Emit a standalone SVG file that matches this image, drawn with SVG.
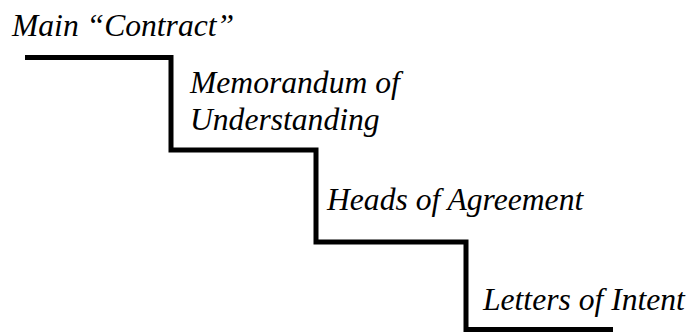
<svg xmlns="http://www.w3.org/2000/svg" width="689" height="336" viewBox="0 0 689 336">
<style>
.step{fill:none;stroke:#000;stroke-width:5;stroke-linejoin:miter;stroke-linecap:butt}
</style>
<rect width="689" height="336" fill="#fff"/>
<g id="connectors">
<path class="step" d="M25 57.5H171V150H316V242H466V329.5H613"/>
</g>
<g font-family="Liberation Serif" font-style="oblique" font-size="31.6" fill="#000">
<g id="main-contract"><text x="12" y="36">Main “Contract”</text></g>
<g id="mou"><text x="190" y="93">Memorandum of</text><text x="190" y="130">Understanding</text></g>
<g id="heads"><text x="327" y="210">Heads of Agreement</text></g>
<g id="letters"><text x="483" y="310">Letters of Intent</text></g>
</g>
</svg>
